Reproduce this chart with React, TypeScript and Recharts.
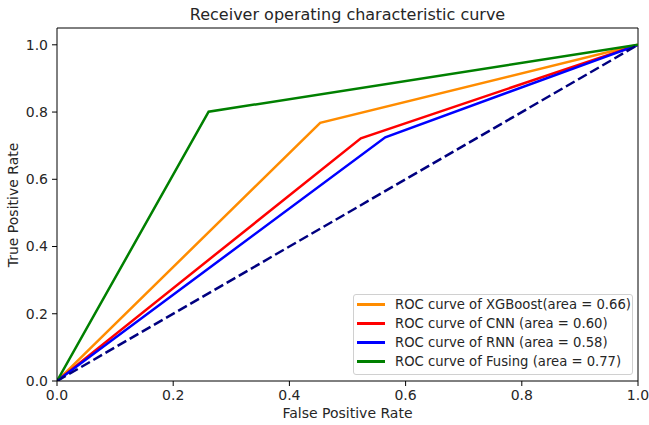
import React from 'react';
import { LineChart, Line, XAxis, YAxis, ReferenceLine } from 'recharts';

const xTicks = [0, 0.2, 0.4, 0.6, 0.8, 1.0];
const yTicks = [0, 0.2, 0.4, 0.6, 0.8, 1.0];

const xgbFpr = [0, 0.453, 1];
const xgbTpr = [0, 0.768, 1];
const cnnFpr = [0, 0.523, 1];
const cnnTpr = [0, 0.722, 1];
const rnnFpr = [0, 0.565, 1];
const rnnTpr = [0, 0.725, 1];
const fusFpr = [0, 0.261, 1];
const fusTpr = [0, 0.801, 1];
const diagFpr = [0, 1];
const diagTpr = [0, 1];

const seriesNames = [
  'ROC curve of XGBoost(area = 0.66)',
  'ROC curve of CNN (area = 0.60)',
  'ROC curve of RNN (area = 0.58)',
  'ROC curve of Fusing (area = 0.77)',
];
const seriesColors = ['#ff8c00', '#ff0000', '#0000ff', '#008000'];

const toPts = (xs: number[], ys: number[]) => xs.map((x, i) => ({ x, y: ys[i] }));

const series = [
  toPts(xgbFpr, xgbTpr),
  toPts(cnnFpr, cnnTpr),
  toPts(rnnFpr, rnnTpr),
  toPts(fusFpr, fusTpr),
];
const diag = toPts(diagFpr, diagTpr);

const FONT = 'DejaVu Sans, sans-serif';
const TXT = '#262626';

const LegendBox = () => (
  <div
    style={{
      position: 'absolute',
      left: 353,
      top: 294,
      width: 278,
      height: 79,
      border: '1px solid #d0d0d0',
      borderRadius: 3,
      background: 'rgba(255,255,255,0.8)',
      fontFamily: FONT,
      fontSize: 13.2,
      color: TXT,
    }}
  >
    {seriesNames.map((n, i) => (
      <div key={n} style={{ display: 'flex', alignItems: 'center', height: 19 }}>
        <div style={{ width: 28, height: 2.5, background: seriesColors[i], marginLeft: 3, marginRight: 10, flexShrink: 0 }} />
        <span style={{ whiteSpace: 'nowrap', lineHeight: '19px' }}>{n}</span>
      </div>
    ))}
  </div>
);

export default function App() {
  return (
    <div style={{ position: 'absolute', left: 0, top: 0, width: 649, height: 425, background: '#fff' }}>
      <LineChart
        width={649}
        height={425}
        margin={{ top: 28, right: 11, bottom: 0, left: 0 }}
      >
        <XAxis
          type="number"
          dataKey="x"
          domain={[0, 1]}
          ticks={xTicks}
          tickFormatter={(v: number) => v.toFixed(1)}
          height={44}
          allowDataOverflow
          stroke="#000"
          tickSize={5}
          tickMargin={4}
          tick={{ fill: TXT, fontSize: 14, fontFamily: FONT }}
        />
        <YAxis
          type="number"
          dataKey="y"
          domain={[0, 1.05]}
          ticks={yTicks}
          tickFormatter={(v: number) => v.toFixed(1)}
          width={57}
          allowDataOverflow
          stroke="#000"
          tickSize={5}
          tickMargin={4}
          tick={{ fill: TXT, fontSize: 14, fontFamily: FONT }}
        />
        <ReferenceLine x={1} stroke="#000" strokeWidth={1} ifOverflow="visible" />
        <ReferenceLine y={1.05} stroke="#000" strokeWidth={1} ifOverflow="visible" />
        {series.map((d, i) => (
          <Line
            key={seriesNames[i]}
            data={d}
            dataKey="y"
            name={seriesNames[i]}
            type="linear"
            stroke={seriesColors[i]}
            strokeWidth={2.5}
            dot={false}
            activeDot={false}
            isAnimationActive={false}
          />
        ))}
        <Line
          data={diag}
          dataKey="y"
          name="diag"
          type="linear"
          stroke="#000080"
          strokeWidth={2.5}
          strokeDasharray="10 4"
          dot={false}
          activeDot={false}
          legendType="none"
          isAnimationActive={false}
        />
      </LineChart>
      <LegendBox />
      <div
        style={{
          position: 'absolute',
          left: 57,
          width: 581,
          top: 5,
          textAlign: 'center',
          fontFamily: FONT,
          fontSize: 16,
          color: TXT,
          whiteSpace: 'nowrap',
        }}
      >
        Receiver operating characteristic curve
      </div>
      <div
        style={{
          position: 'absolute',
          left: 57,
          width: 581,
          top: 405,
          textAlign: 'center',
          fontFamily: FONT,
          fontSize: 14,
          color: TXT,
          whiteSpace: 'nowrap',
        }}
      >
        False Positive Rate
      </div>
      <div
        style={{
          position: 'absolute',
          left: 13,
          top: 205,
          width: 0,
          height: 0,
        }}
      >
        <div
          style={{
            position: 'absolute',
            transform: 'translate(-50%, -50%) rotate(-90deg)',
            whiteSpace: 'nowrap',
            fontFamily: FONT,
            fontSize: 14,
            color: TXT,
          }}
        >
          True Positive Rate
        </div>
      </div>
    </div>
  );
}
